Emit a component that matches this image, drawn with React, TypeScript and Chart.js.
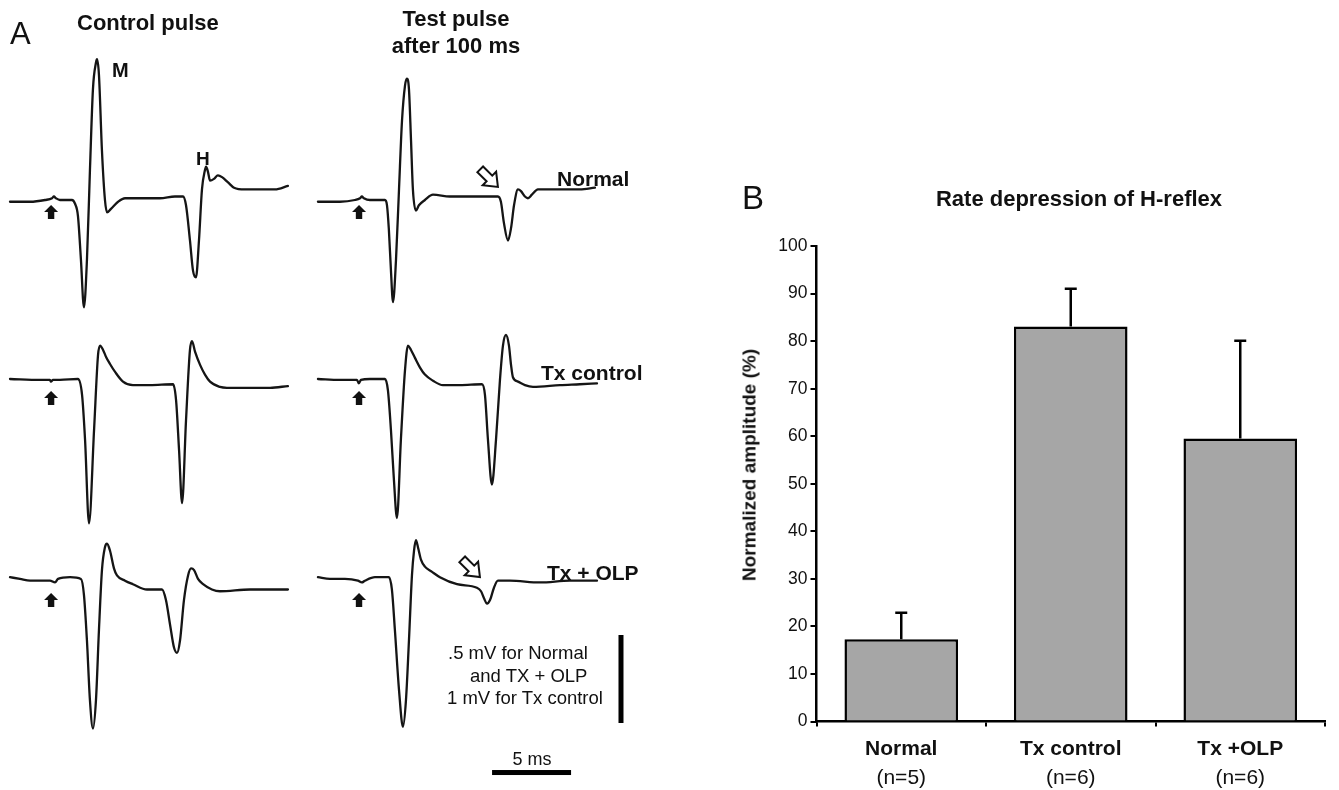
import React, { useEffect, useRef } from "react";
import { Chart, registerables } from "chart.js";
Chart.register(...registerables);

const FONT = "'Liberation Sans', Arial, Helvetica, sans-serif";
Chart.defaults.font.family = FONT;

type Pt = [number, number]; // [time ms from trace start, amplitude mV]

// ---------- Panel A: evoked EMG traces ----------
const normalControl: Pt[] = [
  [0, -0.01], [1.27, -0.01], [2.22, 0], [2.66, 0.01], [2.78, 0.02], [2.91, 0.01], [3.16, 0], [3.92, 0],
  [4.11, -0.02], [4.3, -0.09], [4.49, -0.34], [4.68, -0.61], [4.87, -0.34], [5.06, 0.17], [5.25, 0.63],
  [5.44, 0.78], [5.51, 0.8], [5.63, 0.71], [5.82, 0.28], [6.01, 0], [6.14, -0.07], [6.39, -0.05],
  [6.84, -0.01], [7.28, 0.01], [8.23, 0.01], [9.49, 0.01], [10.44, 0.02], [10.95, 0.02], [11.14, -0.03],
  [11.39, -0.23], [11.58, -0.4], [11.77, -0.44], [11.96, -0.23], [12.15, 0.06], [12.34, 0.17], [12.41, 0.19],
  [12.53, 0.16], [12.66, 0.11], [12.91, 0.12], [13.16, 0.14], [13.42, 0.13], [13.8, 0.1], [14.18, 0.07],
  [14.87, 0.06], [15.82, 0.06], [16.77, 0.06], [17.59, 0.08],
];
const normalTest: Pt[] = [
  [0, -0.01], [1.39, -0.01], [2.34, 0], [2.66, 0.01], [2.78, 0.02], [2.91, 0.01], [3.29, 0], [4.24, 0],
  [4.37, -0.03], [4.49, -0.17], [4.62, -0.4], [4.75, -0.58], [4.94, -0.34], [5.13, 0.06], [5.32, 0.45],
  [5.51, 0.65], [5.63, 0.69], [5.76, 0.63], [5.89, 0.34], [6.01, 0.06], [6.2, -0.06], [6.39, -0.03],
  [6.77, 0], [7.28, 0.03], [8.35, 0.02], [9.62, 0.02], [10.57, 0.02], [11.39, 0.02], [11.58, -0.01],
  [11.77, -0.13], [12.03, -0.23], [12.22, -0.16], [12.41, -0.03], [12.66, 0.06], [12.85, 0.05],
  [13.1, 0.02], [13.29, 0.01], [13.54, 0.03], [13.92, 0.06], [15.32, 0.06], [16.58, 0.06], [17.53, 0.07],
];
const txControl: Pt[] = [
  [0, 0], [1.9, -0.01], [2.53, -0.01], [2.59, -0.03], [2.72, -0.01], [3.16, -0.01], [4.3, 0],
  [4.56, -0.18], [4.75, -0.69], [5.0, -1.64], [5.32, -0.58], [5.57, 0.27], [5.7, 0.38], [5.89, 0.33],
  [6.08, 0.25], [6.33, 0.17], [6.65, 0.08], [7.15, -0.03], [7.78, -0.07], [8.86, -0.07], [10.32, -0.06],
  [10.51, -0.24], [10.7, -0.81], [10.89, -1.41], [11.14, -0.47], [11.39, 0.33], [11.52, 0.43],
  [11.71, 0.31], [12.03, 0.16], [12.34, 0.05], [12.66, -0.03], [13.29, -0.09], [13.73, -0.1],
  [15.19, -0.1], [16.46, -0.1], [17.59, -0.08],
];
const txTest: Pt[] = [
  [0, 0], [1.39, -0.01], [2.47, -0.01], [2.59, -0.05], [2.72, -0.01], [3.29, 0], [4.24, 0],
  [4.43, -0.13], [4.62, -0.58], [4.81, -1.15], [5.0, -1.58], [5.25, -0.69], [5.51, 0.1], [5.7, 0.38],
  [5.89, 0.33], [6.14, 0.24], [6.46, 0.13], [6.77, 0.05], [7.28, -0.02], [7.91, -0.07], [8.99, -0.07],
  [10.38, -0.06], [10.57, -0.18], [10.76, -0.69], [11.01, -1.2], [11.27, -0.69], [11.52, -0.01],
  [11.71, 0.38], [11.9, 0.5], [12.09, 0.38], [12.22, 0.16], [12.34, 0.02], [12.66, -0.03], [13.1, -0.07],
  [13.61, -0.09], [15.32, -0.07], [16.58, -0.06], [17.66, -0.05],
];
const olpControl: Pt[] = [
  [0, 0.01], [0.63, 0], [1.27, -0.01], [1.9, -0.01], [2.53, -0.01], [2.85, -0.02], [3.04, 0], [3.8, 0.01],
  [4.49, 0], [4.68, -0.09], [4.87, -0.35], [5.06, -0.69], [5.25, -0.85], [5.44, -0.69], [5.63, -0.29],
  [5.82, 0.05], [6.01, 0.18], [6.14, 0.2], [6.33, 0.16], [6.58, 0.06], [6.77, 0.02], [7.28, -0.01],
  [7.78, -0.03], [8.67, -0.06], [9.62, -0.06], [9.87, -0.12], [10.13, -0.26], [10.38, -0.39],
  [10.57, -0.42], [10.76, -0.35], [11.01, -0.12], [11.27, 0.02], [11.46, 0.06], [11.65, 0.05],
  [11.9, 0], [12.22, -0.03], [12.78, -0.06], [13.29, -0.07], [15.19, -0.06], [16.46, -0.06], [17.59, -0.06],
];
const olpTest: Pt[] = [
  [0, 0.01], [0.76, 0], [1.71, 0], [2.53, -0.01], [2.78, -0.02], [2.97, -0.01], [3.61, 0.01], [4.49, 0.01],
  [4.68, -0.06], [4.87, -0.29], [5.13, -0.63], [5.38, -0.84], [5.57, -0.69], [5.76, -0.35], [5.95, 0.02],
  [6.08, 0.16], [6.2, 0.22], [6.33, 0.18], [6.52, 0.11], [6.77, 0.07], [7.22, 0.04], [7.72, 0.01],
  [8.8, -0.03], [10.06, -0.05], [10.32, -0.07], [10.51, -0.11], [10.7, -0.14], [10.89, -0.12],
  [11.14, -0.05], [11.39, -0.01], [12.15, -0.01], [14.05, -0.02], [15.95, -0.01], [17.66, -0.01],
];

const STIM_MS = 2.6; // stimulus artifact (filled arrows)
const ROW_GAIN = [1, 0.5, 1]; // .5 mV bar for Normal / Tx+OLP, 1 mV for Tx control

// ---------- Panel B: bar chart ----------
const groups = ["Normal", "Tx control", "Tx +OLP"];
const groupN = ["(n=5)", "(n=6)", "(n=6)"];
const amplitudes = [17.3, 83.1, 59.5];
const errors = [5.6, 7.9, 20.6];
const Y_MIN = 0;
const Y_MAX = 100;
const Y_STEP = 10;

// layout for panel A (display units: ms horizontally, 0.5-mV-bar units vertically)
const A_W = 640;
const A_H = 790;
const A_X = { min: -0.633, max: 39.873 };
const A_Y = { min: -3.3523, max: 1.1364 };
const COL_OFFSET = [0, 19.49];
const ROW_BASE = [0, -1.017, -2.153];
const ARROW_GAP = [5, 12, 14];
const OPEN_ARROWS = [
  { t: 11.39 + 19.49, v: 0.074 },
  { t: 10.25 + 19.49, v: -2.153 + 0.011 },
];
const V_BAR = { t: 38.67, top: -2.4716, len: 0.5 };
const H_BAR = { t: 30.51, v: -3.253, len: 5 };

const traceSet = [
  { data: normalControl, row: 0, col: 0 },
  { data: normalTest, row: 0, col: 1 },
  { data: txControl, row: 1, col: 0 },
  { data: txTest, row: 1, col: 1 },
  { data: olpControl, row: 2, col: 0 },
  { data: olpTest, row: 2, col: 1 },
];

const traceDecor = {
  id: "traceDecor",
  afterDatasetsDraw(chart: any) {
    const { ctx, scales } = chart;
    const x = scales.x;
    const y = scales.y;
    ctx.save();
    ctx.fillStyle = "#111";
    // filled stimulus arrows
    ROW_BASE.forEach((base, r) => {
      COL_OFFSET.forEach((off) => {
        const px = x.getPixelForValue(STIM_MS + off);
        const py = y.getPixelForValue(base) + ARROW_GAP[r];
        ctx.beginPath();
        ctx.moveTo(px, py);
        ctx.lineTo(px + 7, py + 7);
        ctx.lineTo(px + 3.2, py + 7);
        ctx.lineTo(px + 3.2, py + 14);
        ctx.lineTo(px - 3.2, py + 14);
        ctx.lineTo(px - 3.2, py + 7);
        ctx.lineTo(px - 7, py + 7);
        ctx.closePath();
        ctx.fill();
      });
    });
    // open arrows
    OPEN_ARROWS.forEach((a) => {
      const px = x.getPixelForValue(a.t);
      const py = y.getPixelForValue(a.v);
      ctx.save();
      ctx.translate(px, py);
      ctx.rotate(Math.PI / 4);
      ctx.beginPath();
      ctx.moveTo(0, 0);
      ctx.lineTo(-12, -9.5);
      ctx.lineTo(-12, -4);
      ctx.lineTo(-25, -4);
      ctx.lineTo(-25, 4);
      ctx.lineTo(-12, 4);
      ctx.lineTo(-12, 9.5);
      ctx.closePath();
      ctx.fillStyle = "#fff";
      ctx.fill();
      ctx.lineWidth = 2;
      ctx.strokeStyle = "#111";
      ctx.lineJoin = "miter";
      ctx.stroke();
      ctx.restore();
    });
    // scale bars
    ctx.fillStyle = "#000";
    const vx = x.getPixelForValue(V_BAR.t);
    const vy1 = y.getPixelForValue(V_BAR.top);
    const vy2 = y.getPixelForValue(V_BAR.top - V_BAR.len);
    ctx.fillRect(vx - 2.5, vy1, 5, vy2 - vy1);
    const hx1 = x.getPixelForValue(H_BAR.t);
    const hx2 = x.getPixelForValue(H_BAR.t + H_BAR.len);
    const hy = y.getPixelForValue(H_BAR.v);
    ctx.fillRect(hx1, hy - 2.5, hx2 - hx1, 5);
    ctx.restore();
  },
};

const barDecor = {
  id: "barDecor",
  afterDatasetsDraw(chart: any) {
    const { ctx, scales } = chart;
    const y = scales.y;
    const meta = chart.getDatasetMeta(0);
    ctx.save();
    ctx.strokeStyle = "#000";
    ctx.lineWidth = 2.5;
    meta.data.forEach((bar: any, i: number) => {
      const top = y.getPixelForValue(amplitudes[i]);
      const err = y.getPixelForValue(amplitudes[i] + errors[i]);
      ctx.beginPath();
      ctx.moveTo(bar.x, top);
      ctx.lineTo(bar.x, err);
      ctx.moveTo(bar.x - 6, err);
      ctx.lineTo(bar.x + 6, err);
      ctx.stroke();
    });
    ctx.fillStyle = "#111";
    ctx.textAlign = "center";
    ctx.textBaseline = "middle";
    const bottom = y.getPixelForValue(Y_MIN);
    meta.data.forEach((bar: any, i: number) => {
      ctx.font = `bold 21px ${FONT}`;
      ctx.fillText(groups[i], bar.x, bottom + 28);
      ctx.font = `21px ${FONT}`;
      ctx.fillText(groupN[i], bar.x, bottom + 57);
    });
    ctx.restore();
  },
};

function Txt(props: {
  x: number;
  y: number;
  size: number;
  bold?: boolean;
  center?: boolean;
  rotate?: boolean;
  children: React.ReactNode;
}) {
  const { x, y, size, bold, center, rotate, children } = props;
  let transform = center ? "translate(-50%,-50%)" : "translateY(-50%)";
  if (rotate) transform = "translate(-50%,-50%) rotate(-90deg)";
  return (
    <div
      style={{
        position: "absolute",
        left: x,
        top: y,
        fontSize: size,
        lineHeight: `${size}px`,
        fontWeight: bold ? "bold" : "normal",
        fontFamily: FONT,
        whiteSpace: "nowrap",
        color: "#111",
        transform,
      }}
    >
      {children}
    </div>
  );
}

export default function App() {
  const refA = useRef<HTMLCanvasElement>(null);
  const refB = useRef<HTMLCanvasElement>(null);

  useEffect(() => {
    const chartA = new Chart(refA.current as HTMLCanvasElement, {
      type: "scatter",
      data: {
        datasets: traceSet.map((tr) => ({
          data: tr.data.map(([t, v]) => ({
            x: t + COL_OFFSET[tr.col],
            y: ROW_BASE[tr.row] + v * ROW_GAIN[tr.row],
          })),
          showLine: true,
          borderColor: "#151515",
          borderWidth: 2.3,
          pointRadius: 0,
          cubicInterpolationMode: "monotone" as const,
          borderJoinStyle: "round" as const,
          borderCapStyle: "round" as const,
        })),
      },
      options: {
        animation: false,
        responsive: false,
        layout: { padding: 0 },
        plugins: { legend: { display: false }, tooltip: { enabled: false } },
        scales: {
          x: { type: "linear", display: false, min: A_X.min, max: A_X.max },
          y: { type: "linear", display: false, min: A_Y.min, max: A_Y.max },
        },
      },
      plugins: [traceDecor],
    });

    const chartB = new Chart(refB.current as HTMLCanvasElement, {
      type: "bar",
      data: {
        labels: groups,
        datasets: [
          {
            data: amplitudes,
            backgroundColor: "#a6a6a6",
            borderColor: "#000",
            borderWidth: 2.5,
            barPercentage: 0.67,
            categoryPercentage: 1,
          },
        ],
      },
      options: {
        animation: false,
        responsive: false,
        layout: { padding: { top: 66, right: 14, left: 0, bottom: 0 } },
        plugins: { legend: { display: false }, tooltip: { enabled: false } },
        scales: {
          x: {
            offset: true,
            grid: {
              display: true,
              drawOnChartArea: false,
              drawTicks: true,
              tickLength: 5,
              color: "#000",
              lineWidth: 2,
              offset: true,
            },
            border: { display: true, color: "#000", width: 2.5 },
            ticks: { display: false },
            afterFit(s: any) {
              s.height = 68.4;
            },
          },
          y: {
            min: Y_MIN,
            max: Y_MAX,
            ticks: {
              stepSize: Y_STEP,
              font: { size: 17.5, family: FONT },
              color: "#111",
              padding: 3,
            },
            grid: {
              drawOnChartArea: false,
              drawTicks: true,
              tickLength: 6,
              color: "#000",
              lineWidth: 2,
            },
            border: { display: true, color: "#000", width: 2.5 },
            afterFit(s: any) {
              s.width = 96.5;
            },
          },
        },
      },
      plugins: [barDecor],
    });

    return () => {
      chartA.destroy();
      chartB.destroy();
    };
  }, []);

  return (
    <div style={{ position: "absolute", left: 0, top: 0, width: 1339, height: 790, background: "#fff", overflow: "hidden" }}>
      <canvas ref={refA} width={A_W} height={A_H} style={{ position: "absolute", left: 0, top: 0 }} />
      <canvas ref={refB} width={619} height={610} style={{ position: "absolute", left: 720, top: 180 }} />

      <Txt x={10} y={33} size={31}>A</Txt>
      <Txt x={77} y={23} size={22} bold>Control pulse</Txt>
      <Txt x={456} y={19} size={22} bold center>Test pulse</Txt>
      <Txt x={456} y={45.5} size={22} bold center>after 100 ms</Txt>
      <Txt x={112} y={70} size={20} bold>M</Txt>
      <Txt x={196} y={158} size={19} bold>H</Txt>
      <Txt x={557} y={177.5} size={21} bold>Normal</Txt>
      <Txt x={541} y={371.5} size={21} bold>Tx control</Txt>
      <Txt x={547} y={572} size={21} bold>Tx + OLP</Txt>
      <Txt x={448} y={653} size={18.5}>.5 mV for Normal</Txt>
      <Txt x={470} y={676} size={18.5}>and TX + OLP</Txt>
      <Txt x={447} y={698} size={18.5}>1 mV for Tx control</Txt>
      <Txt x={532} y={759} size={18} center>5 ms</Txt>

      <Txt x={742} y={197} size={33}>B</Txt>
      <Txt x={1079} y={199} size={22} bold center>Rate depression of H-reflex</Txt>
      <Txt x={749} y={465} size={19} bold rotate>Normalized amplitude (%)</Txt>
    </div>
  );
}
